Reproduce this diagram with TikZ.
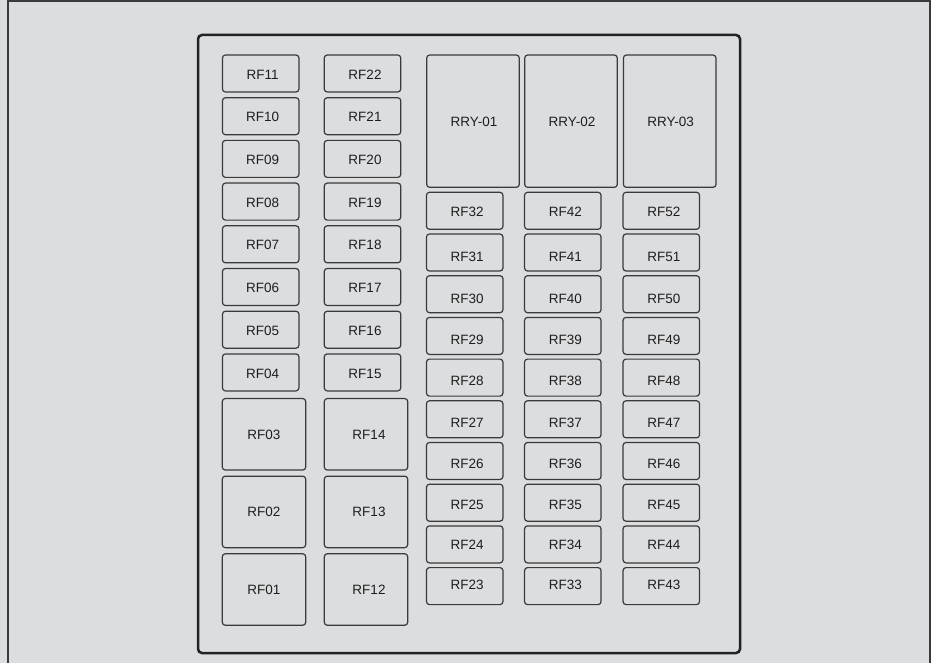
\documentclass[tikz,border=0pt]{standalone}
\usepackage{fontspec}
\setmainfont{Liberation Sans}
\definecolor{bg}{HTML}{DCDDDF}
\definecolor{boxline}{HTML}{3A3A3A}
\definecolor{panelline}{HTML}{222222}
\definecolor{txt}{HTML}{1E1E1E}
\newcommand{\fusetext}[3]{\hspace*{#1pt}\raisebox{-#2pt}{#3}}
\begin{document}
\begin{tikzpicture}[x=1pt,y=-1pt,
  fuse/.style={draw=boxline,line width=1.2pt,rounded corners=3pt,fill=bg,
    minimum width=76.5pt,minimum height=37pt,inner sep=0pt,
    text height=9.7pt,text depth=0pt,text=txt,
    font=\fontsize{13.5pt}{15pt}\selectfont},
  bigfuse/.style={fuse,minimum width=83.4pt,minimum height=71.5pt},
  relay/.style={fuse,minimum width=92.6pt,minimum height=132.3pt}]
\fill[bg] (0,0) rectangle (931,663);
\useasboundingbox (0,0) rectangle (931,663);
\draw[line width=2pt,color=boxline] (8,670) -- (8,1) -- (930,1) -- (930,670);
\draw[line width=2.5pt,color=panelline,rounded corners=4pt] (198,35) rectangle (740,653);
% left columns, small fuses
\foreach \n [count=\i from 0] in {11,10,09,08,07,06,05,04}{
  \node[fuse] (rf\n) at (260.7,{73.5+42.7*\i}) {\fusetext{4}{0.8}{RF\n}};
}
\foreach \n [count=\i from 0] in {22,21,20,19,18,17,16,15}{
  \node[fuse] (rf\n) at (362.5,{73.5+42.7*\i}) {\fusetext{5}{0.8}{RF\n}};
}
% left columns, large fuses
\foreach \n [count=\i from 0] in {03,02,01}{
  \node[bigfuse] (rf\n) at (264,{434.3+77.6*\i}) {\fusetext{0}{0}{RF\n}};
}
\foreach \n [count=\i from 0] in {14,13,12}{
  \node[bigfuse] (rf\n) at (366,{434.3+77.6*\i}) {\fusetext{6}{0}{RF\n}};
}
% relays
\node[relay] (rry1) at (473,121.2) {\fusetext{2}{0}{RRY-01}};
\node[relay] (rry2) at (571,121.2) {\fusetext{2}{0}{RRY-02}};
\node[relay] (rry3) at (669.7,121.2) {\fusetext{2}{0}{RRY-03}};
% right columns
\foreach \n/\d [count=\i from 0] in {32/0.9,31/4.3,30/4.0,29/3.7,28/3.4,27/3.0,26/2.3,25/1.6,24/0.6,23/-1.1}{
  \node[fuse] (rf\n) at (464.7,{210.8+41.7*\i}) {\fusetext{5}{\d}{RF\n}};
}
\foreach \n/\d [count=\i from 0] in {42/0.9,41/4.3,40/4.0,39/3.7,38/3.4,37/3.0,36/2.3,35/1.6,34/0.6,33/-1.1}{
  \node[fuse] (rf\n) at (562.8,{210.8+41.7*\i}) {\fusetext{5}{\d}{RF\n}};
}
\foreach \n/\d [count=\i from 0] in {52/0.9,51/4.3,50/4.0,49/3.7,48/3.4,47/3.0,46/2.3,45/1.6,44/0.6,43/-1.1}{
  \node[fuse] (rf\n) at (661.3,{210.8+41.7*\i}) {\fusetext{5}{\d}{RF\n}};
}
\end{tikzpicture}
\end{document}
